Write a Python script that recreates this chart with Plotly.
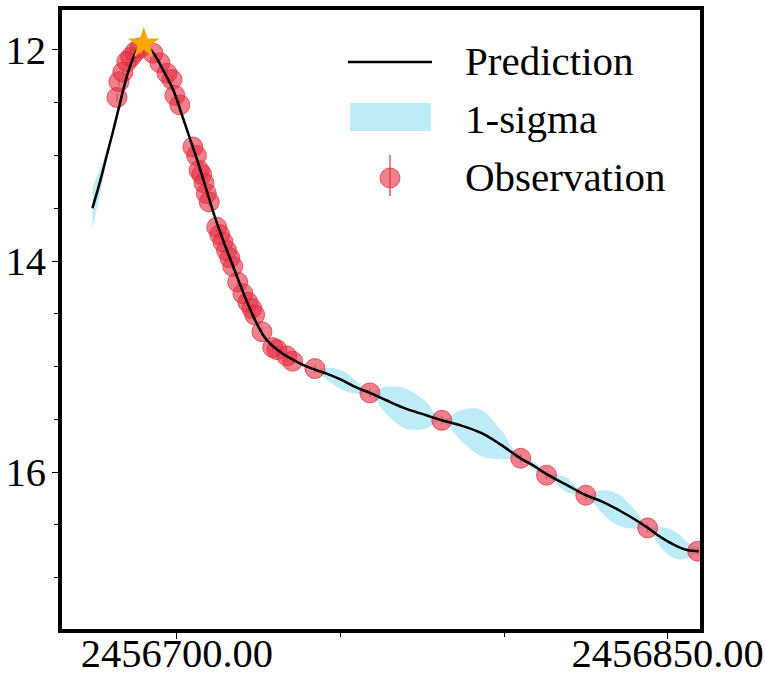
import plotly.graph_objects as go

# Observed photometry (Julian date, magnitude, error)
obs_jd = [2456681.7, 2456682.3, 2456683.5, 2456684.7, 2456685.9, 2456687.2, 2456688.7,
          2456692.7, 2456694.8, 2456697.0, 2456698.5, 2456699.4, 2456700.9, 2456704.9,
          2456706.0, 2456706.8, 2456707.6, 2456708.3, 2456709.0, 2456709.9, 2456712.2,
          2456713.1, 2456714.1, 2456715.2, 2456716.2, 2456717.1, 2456718.6, 2456720.2,
          2456721.7, 2456722.9, 2456723.8, 2456726.0, 2456729.3, 2456730.6, 2456733.6,
          2456735.4, 2456742.2, 2456759.0, 2456781.0, 2456805.1, 2456813.0, 2456825.0,
          2456843.9, 2456859.2]
obs_mag = [12.45, 12.30, 12.21, 12.11, 12.07, 12.02, 11.98,
           12.03, 12.12, 12.22, 12.28, 12.43, 12.52, 12.92,
           13.00, 13.14, 13.18, 13.26, 13.36, 13.44, 13.68,
           13.75, 13.82, 13.90, 13.97, 14.05, 14.20, 14.31,
           14.39, 14.45, 14.51, 14.67, 14.82, 14.84, 14.90,
           14.95, 15.02, 15.25, 15.51, 15.87, 16.03, 16.22,
           16.53, 16.75]
obs_err = [0.04] * len(obs_mag)

# Model prediction and its 1-sigma width
pred_jd = [2456674.2, 2456676.5, 2456678.5, 2456680.5, 2456682.1, 2456683.6, 2456685.1,
           2456686.6, 2456688.2, 2456689.9, 2456692.8, 2456695.8, 2456698.9, 2456701.4,
           2456704.0, 2456706.5, 2456709.1, 2456711.6, 2456714.1, 2456717.2, 2456720.3,
           2456723.3, 2456725.4, 2456727.5, 2456731.5, 2456737.6, 2456742.2, 2456746.0,
           2456750.5, 2456755.0, 2456759.0, 2456764.0, 2456770.0, 2456776.0, 2456781.0,
           2456787.0, 2456793.0, 2456799.0, 2456805.0, 2456809.0, 2456813.0, 2456819.0,
           2456825.0, 2456830.0, 2456835.0, 2456840.0, 2456844.0, 2456848.0, 2456852.0,
           2456856.0, 2456859.5]
pred_mag = [13.50, 13.25, 13.01, 12.77, 12.57, 12.38, 12.21,
            12.08, 11.99, 11.95, 12.03, 12.19, 12.38, 12.60,
            12.84, 13.07, 13.33, 13.58, 13.80, 14.05, 14.30,
            14.52, 14.65, 14.75, 14.86, 14.97, 15.03, 15.07,
            15.13, 15.20, 15.25, 15.32, 15.40, 15.46, 15.51,
            15.56, 15.63, 15.74, 15.87, 15.94, 16.02, 16.12,
            16.22, 16.28, 16.36, 16.45, 16.53, 16.62, 16.69,
            16.74, 16.75]
pred_sig = [0.20, 0.12, 0.06, 0.03, 0.015, 0.01, 0.01,
            0.01, 0.01, 0.01, 0.01, 0.01, 0.01, 0.01,
            0.01, 0.01, 0.01, 0.01, 0.01, 0.01, 0.01,
            0.01, 0.01, 0.01, 0.01, 0.01, 0.01, 0.06,
            0.09, 0.06, 0.01, 0.13, 0.19, 0.13, 0.01,
            0.15, 0.22, 0.14, 0.01, 0.04, 0.01, 0.07,
            0.01, 0.11, 0.15, 0.09, 0.01, 0.10, 0.13,
            0.08, 0.01]

# Peak of the light curve
peak_jd = [2456689.9]
peak_mag = [11.94]

x_ticks = [2456700, 2456850]
y_ticks = [12, 14, 16]
legend_labels = ["Prediction", "1-sigma", "Observation"]

FONT = "Liberation Serif, Times New Roman, serif"
BAND = "rgb(189,236,246)"
RED = "rgba(228,45,65,0.6)"
RED_EDGE = "rgba(228,45,65,0.75)"

upper = [m - s for m, s in zip(pred_mag, pred_sig)]
lower = [m + s for m, s in zip(pred_mag, pred_sig)]

fig = go.Figure()
fig.add_trace(go.Scatter(x=pred_jd, y=upper, mode="lines",
                         line=dict(width=0, shape="spline", smoothing=1.0),
                         hoverinfo="skip", showlegend=False))
fig.add_trace(go.Scatter(x=pred_jd, y=lower, mode="lines", fill="tonexty",
                         fillcolor=BAND,
                         line=dict(width=0, shape="spline", smoothing=1.0),
                         name="1-sigma", showlegend=False))
fig.add_trace(go.Scatter(x=obs_jd, y=obs_mag, mode="markers",
                         marker=dict(size=20, color=RED,
                                     line=dict(color=RED_EDGE, width=1)),
                         error_y=dict(type="data", array=obs_err, color=RED,
                                      thickness=1.5, width=0),
                         name="Observation", showlegend=False))
fig.add_trace(go.Scatter(x=pred_jd, y=pred_mag, mode="lines",
                         line=dict(color="black", width=2.5, shape="spline",
                                   smoothing=1.0),
                         name="Prediction", showlegend=False))
fig.add_trace(go.Scatter(x=peak_jd, y=peak_mag, mode="markers",
                         marker=dict(symbol="star", size=24, color="#FFA500",
                                     line=dict(width=0)),
                         showlegend=False))

# Hand-drawn legend in the upper right
W, H = 638.0, 619.0
def px(xp):
    return (xp - 62) / W
def py(yp):
    return (629 - yp) / H

shapes = [
    dict(type="line", xref="paper", yref="paper",
         x0=px(348), x1=px(432), y0=py(62), y1=py(62),
         line=dict(color="black", width=2.5)),
    dict(type="rect", xref="paper", yref="paper",
         x0=px(350), x1=px(431), y0=py(131), y1=py(103),
         fillcolor=BAND, line=dict(width=0)),
    dict(type="line", xref="paper", yref="paper",
         x0=px(390), x1=px(390), y0=py(196), y1=py(155),
         line=dict(color=RED, width=2)),
    dict(type="circle", xref="paper", yref="paper",
         x0=px(380), x1=px(400), y0=py(188), y1=py(168),
         fillcolor=RED, line=dict(color=RED_EDGE, width=1)),
]
annotations = []
for lab, yc in zip(legend_labels, [61, 119, 177]):
    annotations.append(dict(text=lab, xref="paper", yref="paper",
                            x=px(463), y=py(yc), xanchor="left", yanchor="middle",
                            showarrow=False,
                            font=dict(family=FONT, size=41, color="black")))

fig.update_layout(
    width=765, height=675,
    margin=dict(l=62, r=65, t=10, b=46),
    paper_bgcolor="white", plot_bgcolor="white",
    font=dict(family=FONT, size=40.5, color="black"),
    shapes=shapes, annotations=annotations,
    showlegend=False,
)
fig.update_xaxes(
    range=[2456664.9, 2456859.9], automargin=False,
    tickvals=x_ticks, tickformat=".2f", ticklabelstandoff=-21,
    ticks="outside", ticklen=6, tickwidth=1, tickcolor="black",
    minor=dict(dtick=50, tick0=2456700, ticks="outside", ticklen=4,
               tickwidth=1, tickcolor="black"),
    showline=True, linewidth=4, linecolor="black", mirror=True,
    showgrid=False, zeroline=False,
    tickfont=dict(family=FONT, size=40.5, color="black"),
)
fig.update_yaxes(
    range=[17.488, 11.621], automargin=False,
    tickvals=y_ticks, ticklabelstandoff=-2,
    ticks="outside", ticklen=6, tickwidth=1, tickcolor="black",
    minor=dict(dtick=0.5, tick0=12, ticks="outside", ticklen=4,
               tickwidth=1, tickcolor="black"),
    showline=True, linewidth=4, linecolor="black", mirror=True,
    showgrid=False, zeroline=False,
    tickfont=dict(family=FONT, size=40.5, color="black"),
)

fig.write_html("out.html")
